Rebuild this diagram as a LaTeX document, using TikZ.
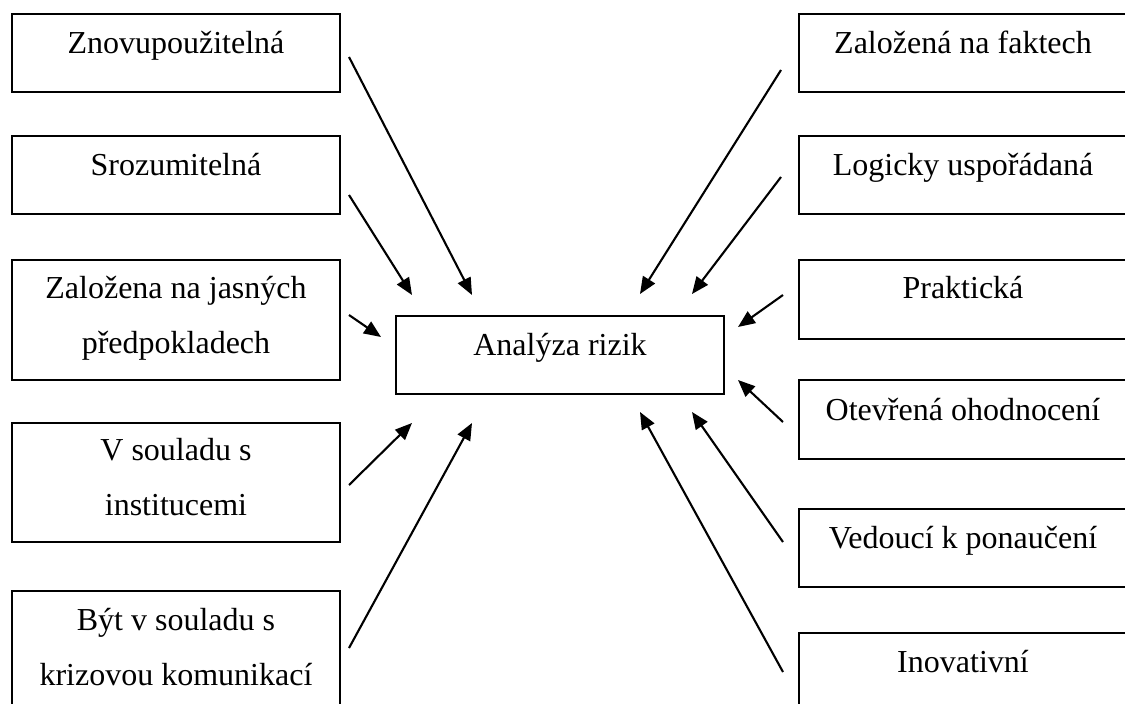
\documentclass[tikz,border=0pt]{standalone}
\usepackage{fontspec}
\setmainfont{Liberation Serif}
\usetikzlibrary{arrows.meta,calc}
\begin{document}
\begin{tikzpicture}[x=1pt,y=-1pt,
  box/.style={draw=black,line width=2pt,inner sep=0pt,anchor=north west},
  txt/.style={anchor=base,inner sep=0pt,font=\fontsize{32}{55}\selectfont},
  arr/.style={line width=2.1pt,-{Triangle[length=17pt,width=14pt]}}]
\clip (0,0) rectangle (1125,704);
\useasboundingbox (0,0) rectangle (1125,704);
% left boxes
\node[box,minimum width=328pt,minimum height=78pt] (l1) at (11,13) {};
\node[box,minimum width=328pt,minimum height=78pt] (l2) at (11,135) {};
\node[box,minimum width=328pt,minimum height=120pt] (l3) at (11,259) {};
\node[box,minimum width=328pt,minimum height=119pt] (l4) at (11,422) {};
\node[box,minimum width=328pt,minimum height=125pt] (l5) at (11,590) {};
% right boxes
\node[box,minimum width=328pt,minimum height=78pt] (r1) at (798,13) {};
\node[box,minimum width=328pt,minimum height=78pt] (r2) at (798,135) {};
\node[box,minimum width=328pt,minimum height=79pt] (r3) at (798,259) {};
\node[box,minimum width=328pt,minimum height=79pt] (r4) at (798,379) {};
\node[box,minimum width=328pt,minimum height=78pt] (r5) at (798,508) {};
\node[box,minimum width=328pt,minimum height=90pt] (r6) at (798,632) {};
% centre
\node[box,minimum width=328pt,minimum height=78pt] (c) at (395,315) {};
% texts
\node[txt] (l1t) at ($(l1.north)+(0,40)$) {Znovupoužitelná};
\node[txt] (l2t) at ($(l2.north)+(0,40)$) {Srozumitelná};
\node[txt] (l3t) at ($(l3.north)+(0,39)$) {\begin{tabular}[t]{@{}c@{}}Založena na jasných\\předpokladech\end{tabular}};
\node[txt] (l4t) at ($(l4.north)+(0,38)$) {\begin{tabular}[t]{@{}c@{}}V souladu s\\institucemi\end{tabular}};
\node[txt] (l5t) at ($(l5.north)+(0,40)$) {\begin{tabular}[t]{@{}c@{}}Být v souladu s\\krizovou komunikací\end{tabular}};
\node[txt] (r1t) at ($(r1.north)+(0,40)$) {Založená na faktech};
\node[txt] (r2t) at ($(r2.north)+(0,40)$) {Logicky uspořádaná};
\node[txt] (r3t) at ($(r3.north)+(0,39)$) {Praktická};
\node[txt] (r4t) at ($(r4.north)+(0,41)$) {Otevřená ohodnocení};
\node[txt] (r5t) at ($(r5.north)+(0,40)$) {Vedoucí k ponaučení};
\node[txt] (r6t) at ($(r6.north)+(0,40)$) {Inovativní};
\node[txt] (ct) at ($(c.north)+(0,40)$) {Analýza rizik};
% connector ends
\coordinate (a1s) at (349,57);  \coordinate (a1e) at (472,295);
\coordinate (a2s) at (349,195); \coordinate (a2e) at (412,295);
\coordinate (a3s) at (349,315); \coordinate (a3e) at (381,337);
\coordinate (a4s) at (349,485); \coordinate (a4e) at (412,423);
\coordinate (a5s) at (349,648); \coordinate (a5e) at (472,423);
\coordinate (b1s) at (781,70);  \coordinate (b1e) at (640,294);
\coordinate (b2s) at (781,177); \coordinate (b2e) at (692,294);
\coordinate (b3s) at (783,295); \coordinate (b3e) at (738,327);
\coordinate (b4s) at (783,422); \coordinate (b4e) at (738,380);
\coordinate (b5s) at (783,542); \coordinate (b5e) at (692,412);
\coordinate (b6s) at (783,672); \coordinate (b6e) at (640,412);
\foreach \n in {a1,a2,a3,a4,a5,b1,b2,b3,b4,b5,b6}
  \draw[arr] (\n s) -- (\n e);
\end{tikzpicture}
\end{document}
